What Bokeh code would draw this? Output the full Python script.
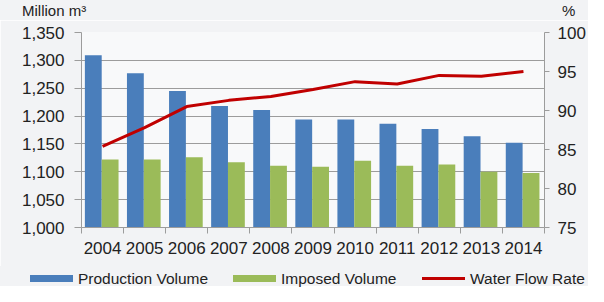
import numpy as np
from bokeh.plotting import figure
from bokeh.layouts import column
from bokeh.models import (Range1d, LinearAxis, FixedTicker, NumeralTickFormatter,
                          ColumnDataSource, Div)
from bokeh.embed import file_html
from bokeh.resources import INLINE

years = [2004, 2005, 2006, 2007, 2008, 2009, 2010, 2011, 2012, 2013, 2014]
production_volume = [1309, 1277, 1245, 1218, 1211, 1194, 1194, 1186, 1177, 1164, 1152]
imposed_volume = [1122, 1122, 1126, 1117, 1111, 1109, 1120, 1111, 1113, 1100, 1098]
water_flow_rate = [85.4, 87.8, 90.5, 91.3, 91.8, 92.7, 93.7, 93.4, 94.5, 94.4, 95.0]
left_ticks = [1000, 1050, 1100, 1150, 1200, 1250, 1300, 1350]
right_ticks = [75, 80, 85, 90, 95, 100]
left_unit = "Million m³"
right_unit = "%"
series_names = ["Production Volume", "Imposed Volume", "Water Flow Rate"]

FONT = "Liberation Sans"
TXT = "#222222"
GRID = "#9c9c9c"
BLUE = "#4a7ebb"
GREEN = "#9bbb59"
RED = "#c00000"
BORDER = "#f2f3f5"

W = 588
TOP_H, LEG_H = 20, 20
MAIN_H = 286 - TOP_H - LEG_H
BL, BR, BT, BB = 81, 43, 12, 39


def strip(h, inner):
    html = (f'<div style="position:relative;width:{W}px;height:{h}px;overflow:visible;'
            f'background:{BORDER};font-family:\'{FONT}\';color:{TXT};white-space:nowrap;">'
            + inner + '</div>')
    return Div(text=html, width=W, height=h, margin=(0, 0, 0, 0))


def span_text(x, top, size, txt):
    return (f'<span style="position:absolute;left:{x}px;top:{top}px;font-size:{size}px;'
            f'line-height:{size}px;">{txt}</span>')


def box(x, top, w, h, color):
    return (f'<span style="position:absolute;left:{x}px;top:{top}px;width:{w}px;'
            f'height:{h}px;background:{color};"></span>')


# ---- top strip: axis units
top = strip(TOP_H, span_text(22, 3, 15, left_unit) + span_text(562, 3, 15, right_unit))

# ---- main chart
yrs = np.array(years, dtype=float)
src = ColumnDataSource(dict(
    xb=yrs - 0.22, xg=yrs + 0.18, x=yrs,
    prod=production_volume, imp=imposed_volume, rate=water_flow_rate))

p = figure(width=W, height=MAIN_H, output_backend="svg", toolbar_location=None,
           x_range=Range1d(yrs[0] - 0.5, yrs[-1] + 0.5),
           y_range=Range1d(left_ticks[0], left_ticks[-1]),
           min_border_left=BL, min_border_right=BR, min_border_top=BT, min_border_bottom=BB)
p.extra_y_ranges = {"pct": Range1d(right_ticks[0], right_ticks[-1])}
p.background_fill_color = "#f8f9fa"
p.border_fill_color = BORDER
p.outline_line_color = None

p.vbar(x="xb", top="prod", bottom=left_ticks[0], width=0.4, source=src,
       fill_color=BLUE, line_color=None)
p.vbar(x="xg", top="imp", bottom=left_ticks[0], width=0.4, source=src,
       fill_color=GREEN, line_color=None)
p.line(x="x", y="rate", source=src, line_color=RED, line_width=3, y_range_name="pct")

xa = p.xaxis[0]
xa.ticker = FixedTicker(ticks=years, minor_ticks=list(yrs - 0.5) + [yrs[-1] + 0.5])
xa.major_tick_line_color = None
xa.major_tick_out = 6
xa.minor_tick_out = 6
xa.minor_tick_in = 0
xa.minor_tick_line_color = GRID
xa.axis_line_color = GRID
xa.major_label_standoff = 8
xa.major_label_text_font = FONT
xa.major_label_text_font_size = "17px"
xa.major_label_text_color = TXT
p.xgrid.grid_line_color = None

ya = p.yaxis[0]
ya.ticker = FixedTicker(ticks=left_ticks)
ya.formatter = NumeralTickFormatter(format="0,0")
ya.minor_tick_line_color = None
ya.major_tick_out = 7
ya.major_tick_in = 0
ya.major_tick_line_color = GRID
ya.axis_line_color = GRID
ya.major_label_standoff = 10
ya.major_label_text_font = FONT
ya.major_label_text_font_size = "17px"
ya.major_label_text_color = TXT
p.ygrid.ticker = FixedTicker(ticks=left_ticks)
p.ygrid.grid_line_color = GRID
p.ygrid.grid_line_width = 1

ra = LinearAxis(y_range_name="pct", ticker=FixedTicker(ticks=right_ticks))
ra.minor_tick_line_color = None
ra.major_tick_out = 5
ra.major_tick_in = 0
ra.major_tick_line_color = GRID
ra.axis_line_color = GRID
ra.major_label_standoff = 8
ra.major_label_text_font = FONT
ra.major_label_text_font_size = "17px"
ra.major_label_text_color = TXT
p.add_layout(ra, "right")

# ---- bottom strip: legend
leg_inner = (box(30, 9, 43, 7, BLUE) + span_text(78, 5, 15.5, series_names[0])
             + box(233, 9, 43, 7, GREEN) + span_text(281, 5, 15.5, series_names[1])
             + box(422, 11, 43, 3, RED) + span_text(470, 5, 15.5, series_names[2]))
leg = strip(LEG_H, leg_inner)

layout = column(top, p, leg, spacing=0)
open("out.html", "w").write(file_html(layout, INLINE))
